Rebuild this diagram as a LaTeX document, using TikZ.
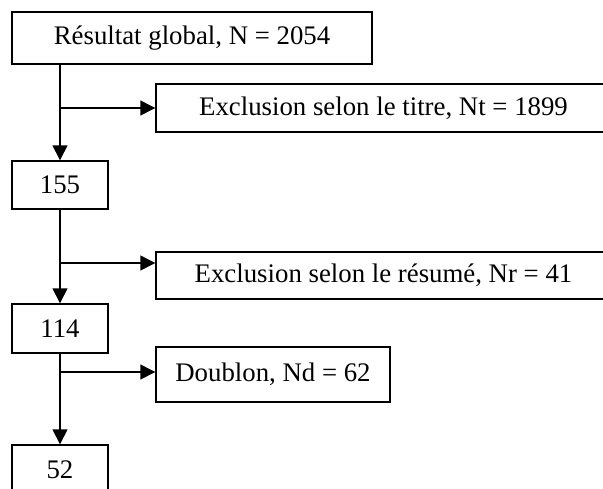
\documentclass[tikz,border=0pt]{standalone}
\usepackage{fontspec}
\setmainfont{Liberation Serif}
\usetikzlibrary{arrows.meta}
\begin{document}
\begin{tikzpicture}[x=1pt,y=-1pt,
  box/.style={draw,line width=1.4pt,inner sep=0pt,font=\fontsize{26.8}{30}\selectfont},
  arr/.style={line width=1.4pt,-{Triangle[length=15pt,width=15pt]}}]
\useasboundingbox (0,0) rectangle (603,488);
\node[box,minimum width=360pt,minimum height=52pt] (b1) at (192,38) {Résultat global, N = 2054};
\node[box,minimum width=455pt,minimum height=48pt] (t1) at (383.5,108) {Exclusion selon le titre, Nt = 1899};
\node[box,minimum width=96pt,minimum height=48pt] (b155) at (60,185) {155};
\node[box,minimum width=455pt,minimum height=47pt] (t2) at (383.5,275.5) {Exclusion selon le résumé, Nr = 41};
\node[box,minimum width=96pt,minimum height=49pt] (b114) at (60,328.5) {114};
\node[box,minimum width=234pt,minimum height=55pt] (dbl) at (273,374.5) {Doublon, Nd = 62};
\node[box,minimum width=96pt,minimum height=49pt] (b52) at (60,469.5) {52};
\coordinate (j2) at (60,263);
\coordinate (j3) at (60,372);
\draw[arr] (b1.south -| b155.north) -- (b155.north);
\draw[arr] (b155.south) -- (b114.north);
\draw[arr] (b114.south) -- (b52.north);
\draw[arr] (b155.north |- t1.west) -- (t1.west);
\draw[arr] (j2) -- (j2 -| t2.west);
\draw[arr] (j3) -- (j3 -| dbl.west);
\end{tikzpicture}
\end{document}
